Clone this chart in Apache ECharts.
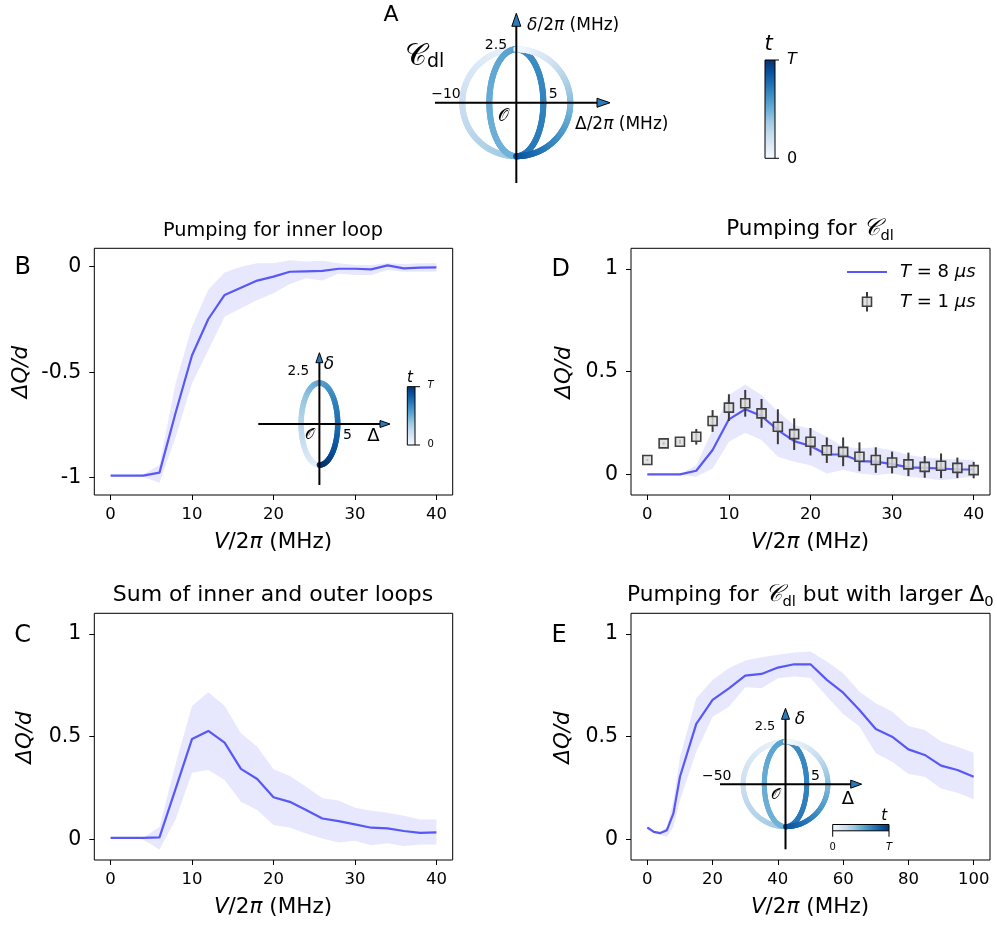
<!DOCTYPE html>
<html><head><meta charset="utf-8">
<script src="https://cdn.jsdelivr.net/npm/echarts@6/dist/echarts.min.js"></script>
<style>html,body{margin:0;padding:0;background:#fff}#c{width:997px;height:926px}</style>
</head><body><div id="c"></div>
<script>
// ---------------- data ----------------
const V40 = [0,2,4,6,8,10,12,14,16,18,20,22,24,26,28,30,32,34,36,38,40];
const B_line  = [-0.99,-0.99,-0.99,-0.976,-0.69,-0.42,-0.248,-0.134,-0.10,-0.066,-0.047,-0.024,-0.022,-0.02,-0.01,-0.01,-0.013,0.006,-0.008,-0.005,-0.003];
const B_upper = [-0.99,-0.99,-0.985,-0.94,-0.55,-0.284,-0.11,-0.028,0,0.016,0.016,0.03,0.024,0.028,0.016,0.008,0.008,0.016,0.013,0.016,0.016];
const B_lower = [-0.99,-0.99,-0.995,-1.024,-0.806,-0.553,-0.395,-0.237,-0.197,-0.158,-0.126,-0.082,-0.055,-0.066,-0.032,-0.039,-0.039,-0.016,-0.024,-0.024,-0.024];

const C_line  = [0.008,0.008,0.008,0.01,0.248,0.489,0.528,0.471,0.343,0.294,0.205,0.183,0.143,0.102,0.089,0.073,0.057,0.054,0.041,0.032,0.034];
const C_upper = [0.008,0.008,0.008,0.06,0.37,0.649,0.716,0.649,0.516,0.451,0.341,0.308,0.256,0.2,0.19,0.154,0.14,0.13,0.115,0.097,0.097];
const C_lower = [0.008,0.008,0.0,-0.049,0.10,0.325,0.338,0.289,0.183,0.143,0.07,0.058,0.029,0.005,-0.015,-0.006,-0.028,-0.019,-0.032,-0.024,-0.024];

const D_line  = [0,0,0,0.018,0.119,0.268,0.317,0.284,0.216,0.162,0.138,0.097,0.097,0.065,0.062,0.05,0.034,0.032,0.029,0.024,0.024];
const D_upper = [0,0,0,0.045,0.216,0.386,0.438,0.386,0.305,0.24,0.224,0.183,0.135,0.127,0.131,0.118,0.094,0.083,0.078,0.073,0.07];
const D_lower = [0,0,-0.003,-0.011,0.029,0.159,0.203,0.167,0.086,0.062,0.045,0.005,0.021,0.005,-0.003,0.005,-0.011,-0.019,-0.028,-0.019,-0.011];
const D_T1    = [0.07,0.151,0.159,0.183,0.26,0.325,0.346,0.297,0.232,0.196,0.159,0.118,0.11,0.086,0.07,0.058,0.049,0.037,0.042,0.032,0.021];
const D_T1err = [0.005,0.006,0.01,0.038,0.053,0.065,0.065,0.07,0.085,0.077,0.067,0.062,0.07,0.07,0.062,0.053,0.057,0.053,0.06,0.05,0.04];

const V100 = [0,2,4,6,8,10,15,20,25,30,35,40,45,50,55,60,65,70,75,80,85,90,95,100];
const E_line  = [0.058,0.037,0.031,0.045,0.127,0.305,0.562,0.679,0.735,0.797,0.805,0.836,0.852,0.852,0.776,0.714,0.63,0.537,0.5,0.438,0.411,0.359,0.338,0.305];
const E_upper = [0.058,0.037,0.035,0.062,0.19,0.40,0.687,0.776,0.833,0.87,0.886,0.898,0.909,0.914,0.865,0.808,0.719,0.662,0.622,0.552,0.532,0.476,0.451,0.422];
const E_lower = [0.058,0.03,0.021,0.013,0.062,0.19,0.427,0.597,0.646,0.74,0.735,0.784,0.792,0.787,0.695,0.61,0.549,0.419,0.378,0.318,0.305,0.248,0.227,0.195];

const ticks40 = [0,10,20,30,40];
const ticks100 = [0,20,40,60,80,100];
const ticksB_y = [-1,-0.5,0];
const ticks01_y = [0,0.5,1];
const yLabelB = {'-1':'-1','-0.5':'-0.5','0':'0'};

// loop geometry (Δ/2π, δ/2π in MHz)
const DELTA_OUT = 10, DELTA_IN = 5, DELTA_AMP = 2.5;

// ---------------- style ----------------
const FF = 'DejaVu Sans';
const LINE = '#5858f8';
const BAND = 'rgba(91,91,247,0.15)';
const BLUES = ['#f7fbff','#deebf7','#c6dbef','#9ecae1','#6baed6','#4292c6','#2171b5','#08519c','#08306b'];
function hx(h){return [parseInt(h.substr(1,2),16),parseInt(h.substr(3,2),16),parseInt(h.substr(5,2),16)];}
function blues(t){t=Math.max(0,Math.min(1,t));const p=t*8,i=Math.min(7,Math.floor(p)),f=p-i;const a=hx(BLUES[i]),b=hx(BLUES[i+1]);
  return 'rgb('+a.map((v,k)=>Math.round(v+(b[k]-v)*f)).join(',')+')';}

const chart = echarts.init(document.getElementById('c'), null, {renderer:'canvas'});

const grids = [
  {left:94.3, top:248.3, width:358.4, height:246.7},   // 0 B
  {left:631,  top:248.3, width:359,   height:246.7},   // 1 D
  {left:94.3, top:613.3, width:358.4, height:246.7},   // 2 C
  {left:631,  top:613.3, width:359,   height:246.7},   // 3 E
  {left:435,  top:13.3,  width:175,   height:169.7},   // 4 A diagram
  {left:258.3,top:352.7, width:131.7, height:132.3},   // 5 B inset
  {left:720,  top:708.3, width:141.7, height:141}      // 6 E inset
].map((g,i)=>Object.assign({show:i<4, borderColor:'#000', borderWidth:1, containLabel:false}, g));

function mainX(gi,min,max,ticks){
  return {gridIndex:gi,type:'value',min,max,position:'bottom',axisLine:{show:false,onZero:false},splitLine:{show:false},
    axisTick:{show:true,inside:false,length:5,customValues:ticks,lineStyle:{color:'#000',width:1}},
    axisLabel:{customValues:ticks,fontSize:16.5,color:'#000',fontFamily:FF,margin:11}};
}
function mainY(gi,min,max,ticks,fmt){
  return {gridIndex:gi,type:'value',min,max,position:'left',axisLine:{show:false,onZero:false},splitLine:{show:false},
    axisTick:{show:true,inside:false,length:5,customValues:ticks,lineStyle:{color:'#000',width:1}},
    axisLabel:{customValues:ticks,fontSize:20.5,color:'#000',fontFamily:FF,margin:13,formatter:fmt}};
}
function hidden(gi,min,max){return {gridIndex:gi,type:'value',min,max,show:false,splitLine:{show:false},axisLine:{onZero:false}};}

const xAxis = [mainX(0,-2,42,ticks40), mainX(1,-2,42,ticks40), mainX(2,-2,42,ticks40), mainX(3,-5,105,ticks100),
  hidden(4,-15.06,17.35), hidden(5,-16.7,19.3), hidden(6,-15.45,17.97)];
const fmt01 = v=> (v===0?'0':v===1?'1':String(v));
const yAxis = [mainY(0,-1.082,0.087,ticksB_y,v=>yLabelB[String(v)]), mainY(1,-0.1,1.1,ticks01_y,fmt01),
  mainY(2,-0.1,1.1,ticks01_y,fmt01), mainY(3,-0.1,1.1,ticks01_y,fmt01),
  hidden(4,-3.75,4.18), hidden(5,-3.72,4.35), hidden(6,-3.83,4.46)];

function band(gi,xs,lo,hi){
  return {type:'custom',xAxisIndex:gi,yAxisIndex:gi,silent:true,z:1,data:[[xs[0],lo[0]]],animation:false,
    renderItem:(p,api)=>{const pts=[];for(let i=0;i<xs.length;i++)pts.push(api.coord([xs[i],hi[i]]));
      for(let i=xs.length-1;i>=0;i--)pts.push(api.coord([xs[i],lo[i]]));
      return {type:'polygon',shape:{points:pts},style:{fill:BAND}};}};
}
function line(gi,xs,ys){
  return {type:'line',xAxisIndex:gi,yAxisIndex:gi,data:xs.map((x,i)=>[x,ys[i]]),symbol:'none',
    lineStyle:{color:LINE,width:2.2},z:3,animation:false,silent:true};
}
function diagram(gi,loops,cfg){
  return {type:'custom',xAxisIndex:gi,yAxisIndex:gi,silent:true,z:6,clip:false,animation:false,data:[[0,0]],
    renderItem:(p,api)=>{
      const ch=[];
      loops.forEach(L=>{const N=90;for(let k=0;k<N;k++){
        const t0=L.th0+(L.th1-L.th0)*k/N,t1=L.th0+(L.th1-L.th0)*(k+1)/N;
        const a=api.coord([L.a*Math.cos(t0),L.b*Math.sin(t0)]),b=api.coord([L.a*Math.cos(t1),L.b*Math.sin(t1)]);
        ch.push({type:'line',shape:{x1:a[0],y1:a[1],x2:b[0],y2:b[1]},style:{stroke:blues(L.c0+(L.c1-L.c0)*(k+0.5)/N),lineWidth:cfg.lw,lineCap:'round'}});}});
      const xa=api.coord([cfg.x0,0]),xb=api.coord([cfg.x1,0]),ya=api.coord([0,cfg.y0]),yb=api.coord([0,cfg.y1]);
      const L=cfg.al,W=cfg.aw;
      ch.push({type:'line',shape:{x1:xa[0],y1:xa[1],x2:xb[0]-L,y2:xb[1]},style:{stroke:'#000',lineWidth:2}});
      ch.push({type:'line',shape:{x1:ya[0],y1:ya[1],x2:yb[0],y2:yb[1]+L},style:{stroke:'#000',lineWidth:2}});
      ch.push({type:'polygon',shape:{points:[[xb[0],xb[1]],[xb[0]-L,xb[1]-W],[xb[0]-L,xb[1]+W]]},style:{fill:'#2b7bba',stroke:'#000',lineWidth:1}});
      ch.push({type:'polygon',shape:{points:[[yb[0],yb[1]],[yb[0]-W,yb[1]+L],[yb[0]+W,yb[1]+L]]},style:{fill:'#2b7bba',stroke:'#000',lineWidth:1}});
      return {type:'group',children:ch};
    }};
}
const PI=Math.PI;
const loopCdl = [
  {a:DELTA_OUT,b:DELTA_AMP,th0:PI/2,th1:3*PI/2,c0:0.05,c1:0.38},
  {a:DELTA_IN,b:DELTA_AMP,th0:3*PI/2,th1:PI/2,c0:0.47,c1:0.55},
  {a:DELTA_IN,b:DELTA_AMP,th0:PI/2,th1:-PI/2,c0:0.62,c1:0.74},
  {a:DELTA_OUT,b:DELTA_AMP,th0:-PI/2,th1:PI/2,c0:0.88,c1:0.02}
];
const loopInner = [{a:DELTA_IN,b:DELTA_AMP,th0:-PI/2,th1:-5*PI/2,c0:0.05,c1:1.0}];

const series = [
  band(0,V40,B_lower,B_upper), line(0,V40,B_line),
  band(1,V40,D_lower,D_upper), line(1,V40,D_line),
  {type:'custom',xAxisIndex:1,yAxisIndex:1,silent:true,z:4,animation:false,
    data:V40.map((x,i)=>[x,D_T1[i]-D_T1err[i],D_T1[i]+D_T1err[i]]),
    renderItem:(p,api)=>{const a=api.coord([api.value(0),api.value(1)]),b=api.coord([api.value(0),api.value(2)]);
      return {type:'line',shape:{x1:a[0],y1:a[1],x2:b[0],y2:b[1]},style:{stroke:'#3a3a3a',lineWidth:2}};}},
  {type:'scatter',xAxisIndex:1,yAxisIndex:1,silent:true,z:5,animation:false,symbol:'rect',symbolSize:9,
    data:V40.map((x,i)=>[x,D_T1[i]]),itemStyle:{color:'rgba(220,220,220,0.8)',borderColor:'#404040',borderWidth:1.6,opacity:1}},
  band(2,V40,C_lower,C_upper), line(2,V40,C_line),
  band(3,V100,E_lower,E_upper), line(3,V100,E_line),
  diagram(4,loopCdl,{lw:6,x0:-15.06,x1:17.35,y0:-3.75,y1:4.18,al:13,aw:4.5}),
  diagram(5,loopInner,{lw:5.5,x0:-16.7,x1:19.3,y0:-3.72,y1:4.35,al:10,aw:3.5}),
  diagram(6,loopCdl,{lw:5,x0:-15.45,x1:17.97,y0:-3.83,y1:4.46,al:11,aw:4})
];

// ---------------- text / annotations ----------------
function T(x,y,text,size,opt){opt=opt||{};
  return {type:'text',x,y,rotation:opt.rot||0,z:20,silent:true,style:Object.assign({text,fontSize:size,fontFamily:FF,fill:'#000',
    align:opt.align||'center',verticalAlign:opt.va||'middle',textAlign:opt.align||'center',textVerticalAlign:opt.va||'middle',
    fontStyle:opt.italic?'italic':'normal'},opt.rich?{rich:opt.rich}:{})};}
function R(sz){return {n:{fontSize:sz,fontFamily:FF},i:{fontSize:sz,fontFamily:FF,fontStyle:'italic'},
  c:{fontSize:sz*1.1,fontFamily:FF,fontStyle:'italic'},s:{fontSize:sz*0.68,fontFamily:FF,verticalAlign:'bottom',padding:[0,0,-3,0]}};}
const vLabel = '{i|V}{n|/2}{i|π}{n| (MHz)}';
const qLabel = '{i|ΔQ/d}';

function vcbar(x,y,w,h){return {type:'rect',shape:{x,y,width:w,height:h},z:20,silent:true,
  style:{fill:new echarts.graphic.LinearGradient(0,1,0,0,BLUES.map((c,i)=>({offset:i/8,color:c}))),stroke:'#000',lineWidth:1}};}
function hcbar(x,y,w,h){return {type:'rect',shape:{x,y,width:w,height:h},z:20,silent:true,
  style:{fill:new echarts.graphic.LinearGradient(0,0,1,0,BLUES.map((c,i)=>({offset:i/8,color:c}))),stroke:'#000',lineWidth:1}};}
function seg(x1,y1,x2,y2,c,w){return {type:'line',shape:{x1,y1,x2,y2},z:20,silent:true,style:{stroke:c||'#000',lineWidth:w||1}};}

const graphic = [
  // panel A
  T(391,15,'A',22),
  T(405,57,'{c|𝒞}{s|dl}',26,{align:'left',rich:{c:{fontSize:30,fontFamily:FF},s:{fontSize:19,fontFamily:FF,verticalAlign:'bottom'}}}),
  T(496,45.5,'2.5',14),
  T(527,26,'{i|δ}{n|/2}{i|π}{n| (MHz)}',17,{align:'left',rich:R(17)}),
  T(446,94.3,'−10',14),
  T(553.3,94.3,'5',14),
  T(503.3,116.7,'𝒪',17),
  T(575,125,'{n|Δ/2}{i|π}{n| (MHz)}',17,{align:'left',rich:R(17)}),
  vcbar(765,60,10,98.3), seg(775,60,779,60), seg(775,158.3,779,158.3),
  T(768.5,45,'t',21,{italic:true}), T(787,60,'T',16,{italic:true,align:'left'}), T(787,158.5,'0',16,{align:'left'}),
  // panel B
  T(273,231,'Pumping for inner loop',19.3),
  T(22.7,268,'B',24),
  T(273,542,vLabel,21.5,{rich:R(21.5)}),
  T(21.7,372,qLabel,21.5,{rot:PI/2,rich:R(21.5)}),
  T(298.3,371.7,'2.5',13.6), T(329,365,'δ',17,{italic:true}), T(309,435,'𝒪',15),
  T(347.5,435,'5',14), T(373.3,436.7,'Δ',18),
  vcbar(407.3,386.7,7.7,58.3), seg(415,386.7,420,386.7), seg(415,445,420,445),
  T(410,378,'t',15,{italic:true}), T(427.5,385.8,'T',10,{italic:true,align:'left'}), T(427.5,444.7,'0',10,{align:'left'}),
  // panel D
  T(810,229,'{n|Pumping for }{c|𝒞}{s|dl}',21.5,{rich:R(21.5)}),
  T(560.8,270,'D',24),
  T(810,542,vLabel,21.5,{rich:R(21.5)}),
  T(564,372.5,qLabel,21.5,{rot:PI/2,rich:R(21.5)}),
  seg(847,272,887,272,LINE,2.2),
  seg(867,292,867,311.5,'#3a3a3a',2),
  {type:'rect',shape:{x:862.5,y:297.2,width:9,height:9},z:21,silent:true,style:{fill:'rgba(220,220,220,0.8)',stroke:'#404040',lineWidth:1.6}},
  T(900,272,'{i|T}{n| = 8 }{i|μs}',18,{align:'left',rich:R(18)}),
  T(900,302,'{i|T}{n| = 1 }{i|μs}',18,{align:'left',rich:R(18)}),
  // panel C
  T(273,595,'Sum of inner and outer loops',22),
  T(22.7,635.7,'C',24),
  T(273,907,vLabel,21.5,{rich:R(21.5)}),
  T(25.8,737.5,qLabel,21.5,{rot:PI/2,rich:R(21.5)}),
  // panel E
  T(627,595,'{n|Pumping for }{c|𝒞}{s|dl}{n| but with larger Δ}{s|0}',21.7,{align:'left',rich:R(21.7)}),
  T(559,635.7,'E',24),
  T(810,907,vLabel,21.5,{rich:R(21.5)}),
  T(563,737.5,qLabel,21.5,{rot:PI/2,rich:R(21.5)}),
  T(765,726.7,'2.5',13), T(800,720,'δ',17,{italic:true}), T(716.7,776,'−50',14),
  T(815.5,776,'5',14), T(775.3,795.5,'𝒪',15), T(847.8,799,'Δ',18),
  hcbar(832.7,824.5,56.3,6.3), seg(832.7,830.8,832.7,836.7), seg(889,830.8,889,836.7),
  T(884.3,816,'t',15,{italic:true}), T(832.7,847,'0',10), T(889,847,'T',10,{italic:true})
];

chart.setOption({animation:false,backgroundColor:'#fff',grid:grids,xAxis,yAxis,series,graphic});
</script></body></html>
